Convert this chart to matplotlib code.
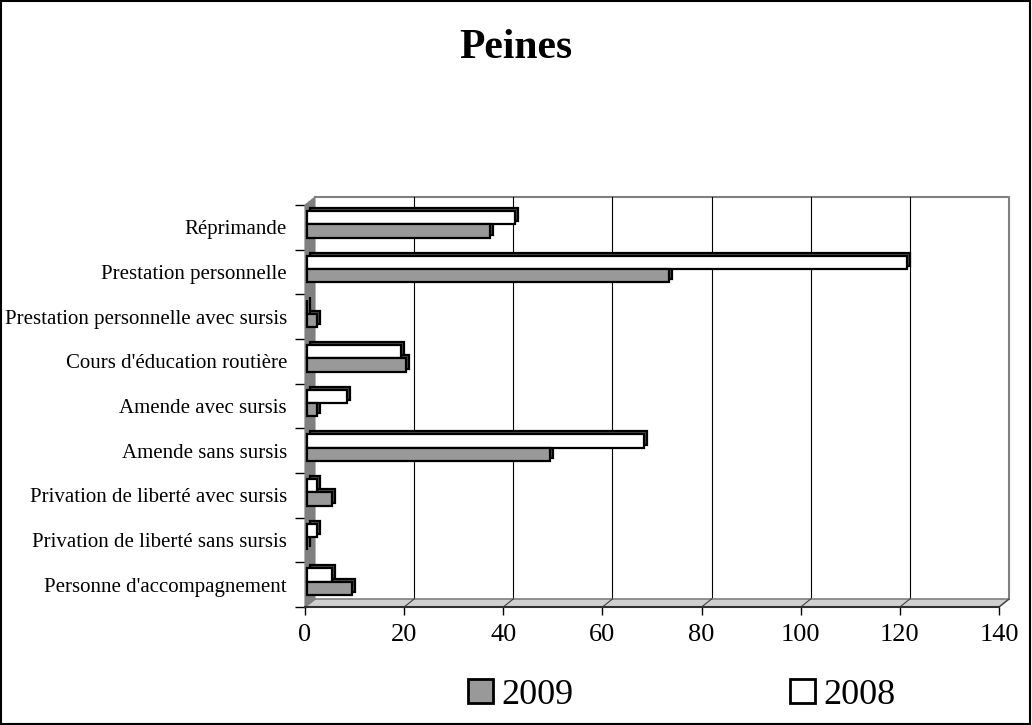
import matplotlib
matplotlib.use("Agg")
import matplotlib.pyplot as plt
import matplotlib.transforms as mtransforms
from matplotlib.patches import Patch, Polygon, Rectangle

plt.rcParams['font.family'] = ['Liberation Serif', 'DejaVu Serif']

# categories, top to bottom as shown
categories = [
    "Réprimande",
    "Prestation personnelle",
    "Prestation personnelle avec sursis",
    "Cours d'éducation routière",
    "Amende avec sursis",
    "Amende sans sursis",
    "Privation de liberté avec sursis",
    "Privation de liberté sans sursis",
    "Personne d'accompagnement",
]
values_2008 = [42, 121, 0, 19, 8, 68, 2, 2, 5]
values_2009 = [37, 73, 2, 20, 2, 49, 5, 0, 9]
x_ticks = [0, 20, 40, 60, 80, 100, 120, 140]

GRAY = '#999999'
WALL = '#808080'

W, H = 1032, 725
fig = plt.figure(figsize=(W / 100, H / 100), dpi=100)

# plot area (front plane), in pixels
left_px, right_px, top_px, bot_px = 305, 999, 205, 607
ax = fig.add_axes([left_px / W, 1 - bot_px / H,
                   (right_px - left_px) / W, (bot_px - top_px) / H])
xmax = x_ticks[-1]
n = len(categories)
ax.set_xlim(0, xmax)
ax.set_ylim(n - 0.5, -0.5)

# depth of the fake 3d box, in data units
ppu_x = (right_px - left_px) / xmax
ppu_y = (bot_px - top_px) / n
dx = 10 / ppu_x
dy = 8 / ppu_y
y0, y1 = -0.5, n - 0.5

# back wall outline and gridlines
ax.plot([dx, xmax + dx, xmax + dx], [y0 - dy, y0 - dy, y1 - dy],
        color=WALL, lw=1.5, clip_on=False, zorder=1)
for xv in x_ticks[1:-1]:
    ax.plot([xv + dx, xv + dx], [y0 - dy, y1 - dy], color='black', lw=0.8,
            clip_on=False, zorder=1)

# floor
floor = Polygon([(0, y1), (xmax, y1), (xmax + dx, y1 - dy), (dx, y1 - dy)],
                closed=True, facecolor='#d0d0d0', edgecolor=WALL, lw=1.2,
                clip_on=False, zorder=1.5)
ax.add_patch(floor)
for xv in x_ticks[1:]:
    ax.plot([xv, xv + dx], [y1, y1 - dy], color='#404040', lw=0.8,
            clip_on=False, zorder=1.6)

# left side wall
wall = Polygon([(0, y0), (dx, y0 - dy), (dx, y1 - dy), (0, y1)],
               closed=True, facecolor=WALL, edgecolor=WALL, lw=0.8,
               clip_on=False, zorder=1.7)
ax.add_patch(wall)

# bars with a small extruded look
bh = 0.30
ypos = list(range(n))
front = ax.transData + mtransforms.ScaledTranslation(2 / 100, 3 / 100, fig.dpi_scale_trans)
back = ax.transData + mtransforms.ScaledTranslation(5 / 100, 6 / 100, fig.dpi_scale_trans)

for vals, off, col, side in [(values_2008, -bh / 2, 'white', '#505050'),
                             (values_2009, bh / 2, GRAY, '#505050')]:
    yy = [y + off for y in ypos]
    depth = ax.barh(yy, vals, height=bh, color=side, edgecolor='black',
                    lw=1.6, zorder=3, clip_on=False)
    for p in depth:
        p.set_transform(back)
    bars = ax.barh(yy, vals, height=bh, color=col, edgecolor='black',
                   lw=1.6, zorder=4, clip_on=False)
    for p in bars:
        p.set_transform(front)

# axes styling
for s in ['top', 'right']:
    ax.spines[s].set_visible(False)
ax.spines['left'].set_color(WALL)
ax.spines['left'].set_linewidth(0.8)
ax.spines['bottom'].set_color('#303030')
ax.spines['bottom'].set_linewidth(1.5)
ax.spines['left'].set_zorder(2)

ax.set_xticks(x_ticks)
ax.set_xticklabels([str(v) for v in x_ticks], fontsize=19)
ax.tick_params(axis='x', length=6, width=1, pad=6)

ax.set_yticks([i - 0.5 for i in range(n + 1)])
ax.set_yticklabels([])
ax.tick_params(axis='y', which='major', length=7.5, width=1)
ax.set_yticks(ypos, minor=True)
ax.set_yticklabels(categories, minor=True, fontsize=15)
ax.tick_params(axis='y', which='minor', length=0, pad=13)

fig.text(516 / W, 1 - 58 / H, "Peines", ha='center', va='baseline',
         fontsize=30, fontweight='bold')

handles = [Patch(facecolor=GRAY, edgecolor='black', lw=2, label='2009'),
           Patch(facecolor='white', edgecolor='black', lw=2, label='2008')]
fig.legend(handles=handles, loc='center', bbox_to_anchor=(682 / W, 1 - 695 / H),
           ncol=2, frameon=False, fontsize=26, handlelength=0.67,
           handleheight=0.67, handletextpad=0.25, columnspacing=6.0)

fig.patches.append(Rectangle((0.001, 0.001), 0.997, 0.997, transform=fig.transFigure,
                             fill=False, edgecolor='black', lw=1.5))

fig.savefig('out.png', dpi=100)
